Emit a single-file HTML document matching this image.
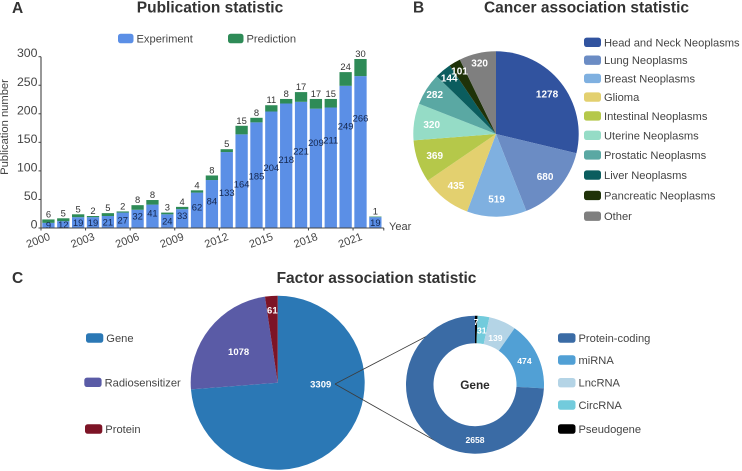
<!DOCTYPE html>
<html lang="en">
<head>
<meta charset="utf-8">
<title>Publication, cancer and factor association statistics</title>
<style>
html,body{margin:0;padding:0;background:#fff;}
svg{display:block;font-family:"Liberation Sans",sans-serif;}
.title{font-size:15.5px;font-weight:bold;fill:#333;}
.panel{font-size:15.5px;font-weight:bold;fill:#333;}
.leg{font-size:11.15px;fill:#444;}
</style>
</head>
<body>
<svg id="chart" width="742" height="471" viewBox="0 0 742 471" xmlns="http://www.w3.org/2000/svg">
  <rect x="0" y="0" width="742" height="471" fill="#fff"/>
  <text class="panel" x="12" y="13">A</text>
  <text class="panel" x="413" y="12.5">B</text>
  <text class="panel" x="12" y="283">C</text>
  <text class="title" x="210" y="12.5" text-anchor="middle">Publication statistic</text>
  <text class="title" x="586.5" y="12.5" text-anchor="middle">Cancer association statistic</text>
  <text class="title" x="376.5" y="283" text-anchor="middle">Factor association statistic</text>
  <text x="8" y="127" transform="rotate(-90 8 127)" text-anchor="middle" font-size="11.2" fill="#444">Publication number</text>
  <text x="389" y="230" font-size="11" fill="#444">Year</text>
  <g id="bars"></g>
  <g id="axes"></g>
  <g id="pieB"></g>
  <g id="pieC"></g>
  <line x1="335" y1="384" x2="429" y2="335" stroke="#3c3c3c" stroke-width="0.8"/>
  <line x1="335" y1="384" x2="441" y2="444" stroke="#3c3c3c" stroke-width="0.8"/>
  <g id="donut"></g>
  <text x="475" y="389" text-anchor="middle" font-size="11.8" font-weight="bold" fill="#2a2a2a">Gene</text>
  <g id="legends"></g>
</svg>
<script>
// Panel A data
const years = [2000,2001,2002,2003,2004,2005,2006,2007,2008,2009,2010,2011,2012,2013,2014,2015,2016,2017,2018,2019,2020,2021,2022];
const experiment = [9,12,19,19,21,27,32,41,24,33,62,84,133,164,185,204,218,221,209,211,249,266,19];
const prediction = [6,5,5,2,5,2,8,8,3,4,4,8,5,15,8,11,8,17,17,15,24,30,1];
const yTicks = [0,50,100,150,200,250,300];
const yearTicks = [2000,2003,2006,2009,2012,2015,2018,2021];

// Panel B data
const cancerNames = ['Head and Neck Neoplasms','Lung Neoplasms','Breast Neoplasms','Glioma','Intestinal Neoplasms','Uterine Neoplasms','Prostatic Neoplasms','Liver Neoplasms','Pancreatic Neoplasms','Other'];
const cancerValues = [1278,680,519,435,369,320,282,144,101,320];
const cancerColors = ['#31539f','#6b8cc4','#7fb0e0','#e3d06f','#b5c84a','#95dcc6','#5aa8a3','#0b5d5e','#1f3208','#7f7f7f'];

// Panel C data: printed values, and slice sizes as read from the drawn arcs
// (the reference enlarges its smallest slices, so the two differ slightly).
const factorNames = ['Gene','Radiosensitizer','Protein'];
const factorLabels = ['3309','1078','61'];
const factorArcValues = [3282,1063,104];
const factorColors = ['#2b78b5','#5a5ba6','#7d1426'];

const geneNames = ['Protein-coding','miRNA','LncRNA','CircRNA','Pseudogene'];
const geneLabels = ['2658','474','139','31','7'];
const geneArcValues = [2454,533,211,92,19];
const geneColors = ['#3a6ba5','#51a0d5','#b4d4e6','#72cbdc','#000000'];

const NS = 'http://www.w3.org/2000/svg';
function mk(tag, attrs, parent, txt) {
  const el = document.createElementNS(NS, tag);
  for (const k in attrs) el.setAttribute(k, attrs[k]);
  if (txt !== undefined) el.textContent = txt;
  parent.appendChild(el);
  return el;
}
const kebab = s => String(s).toLowerCase().replace(/[^a-z0-9]+/g, '-');

// Axis functions for panel A
const plotLeft = 41, plotBase = 228, band = 14.86, barW = 12.3, unit = 0.571;
const xBand = i => plotLeft + band * i;
const yVal = v => plotBase - v * unit;

// Where the reference sits each experiment label, in data units
function expLabelHeight(v, i) {
  if (v >= 100) return Math.min(v * 0.73, 62 + 14.5 * (i - 12));
  return v >= 30 ? v / 2 + 5 : v / 2;
}

const barsG = document.getElementById('bars');
years.forEach((yr, i) => {
  const cx = xBand(i) + band / 2;
  const e = experiment[i], p = prediction[i];
  const r1 = mk('rect', {x: cx - barW / 2, y: yVal(e), width: barW, height: e * unit, fill: '#5b8fe6'}, barsG);
  
  
  const r2 = mk('rect', {x: cx - barW / 2, y: yVal(e + p), width: barW, height: p * unit, fill: '#2e8b57'}, barsG);
  
  
  const t1 = mk('text', {x: cx, y: yVal(expLabelHeight(e, i)) + 3.3, 'text-anchor': 'middle', 'font-size': 9.4, fill: '#14264d'}, barsG, e);
  
  
  const t2 = mk('text', {x: cx, y: yVal(e + p) - 2, 'text-anchor': 'middle', 'font-size': 9.4, fill: '#333'}, barsG, p);
  
  
});

const axesG = document.getElementById('axes');
const yAxis = mk('line', {x1: plotLeft, x2: plotLeft, y1: yVal(300), y2: plotBase, stroke: '#444', 'stroke-width': 1.1}, axesG);


const xAxis = mk('line', {x1: plotLeft, x2: xBand(years.length) + 1, y1: plotBase, y2: plotBase, stroke: '#444', 'stroke-width': 1.1}, axesG);


yTicks.forEach(v => {
  const y = yVal(v);
  const tk = mk('line', {x1: plotLeft - 2.5, x2: plotLeft, y1: y, y2: y, stroke: '#444', 'stroke-width': 1}, axesG);
  
  
  const lb = mk('text', {x: 37.5, y: y + 0.5, 'text-anchor': 'end', 'font-size': 12.3, fill: '#444'}, axesG, v);
  
  
});
yearTicks.forEach(yr => {
  const x = xBand(years.indexOf(yr));
  const tk = mk('line', {x1: x, x2: x, y1: plotBase, y2: plotBase + 2.5, stroke: '#444', 'stroke-width': 1}, axesG);
  
  
  const lx = x - 3, ly = 240;
  const lb = mk('text', {x: lx, y: ly + 4, 'text-anchor': 'middle', 'font-size': 11, fill: '#444', transform: 'rotate(-20 ' + lx + ' ' + ly + ')'}, axesG, yr);
  
  
});
const endTick = mk('line', {x1: xBand(years.length) + 1, x2: xBand(years.length) + 1, y1: plotBase, y2: plotBase + 2.5, stroke: '#444', 'stroke-width': 1}, axesG);



// Pie helpers
function pol(cx, cy, r, deg) {
  const a = deg * Math.PI / 180;
  return [cx + r * Math.sin(a), cy - r * Math.cos(a)];
}
function arcPath(cx, cy, r, r0, a0, a1) {
  const large = (a1 - a0) > 180 ? 1 : 0;
  const p0 = pol(cx, cy, r, a0), p1 = pol(cx, cy, r, a1);
  if (r0 === 0) return 'M' + cx + ' ' + cy + 'L' + p0 + 'A' + r + ' ' + r + ' 0 ' + large + ' 1 ' + p1 + 'Z';
  const q1 = pol(cx, cy, r0, a1), q0 = pol(cx, cy, r0, a0);
  return 'M' + p0 + 'A' + r + ' ' + r + ' 0 ' + large + ' 1 ' + p1 + 'L' + q1 + 'A' + r0 + ' ' + r0 + ' 0 ' + large + ' 0 ' + q0 + 'Z';
}
function sliceAngles(vals) {
  const total = vals.reduce((s, v) => s + v, 0);
  let acc = 0;
  return vals.map(v => {
    const a0 = acc / total * 360;
    acc += v;
    return [a0, acc / total * 360];
  });
}

// Panel B pie
const pieB = document.getElementById('pieB');
const bCx = 496, bCy = 134, bR = 82.7;
sliceAngles(cancerValues).forEach(([a0, a1], i) => {
  const s = mk('path', {d: arcPath(bCx, bCy, bR, 0, a0, a1), fill: cancerColors[i]}, pieB);
  
  
});
sliceAngles(cancerValues).forEach(([a0, a1], i) => {
  const p = pol(bCx, bCy, i >= 6 ? 73 : 65, (a0 + a1) / 2);
  const t = mk('text', {x: p[0], y: p[1] + 3.6, 'text-anchor': 'middle', 'font-size': 10, 'font-weight': 'bold', fill: '#fff'}, pieB, cancerValues[i]);
  
  
});

// Panel C pie
const pieC = document.getElementById('pieC');
const cCx = 277.7, cCy = 382.7, cR = 87;
const factorAngles = sliceAngles(factorArcValues);
factorAngles.forEach(([a0, a1], i) => {
  const s = mk('path', {d: arcPath(cCx, cCy, cR, 0, a0, a1), fill: factorColors[i]}, pieC);
  
  
});
factorAngles.forEach(([a0, a1], i) => {
  const p = i === 0 ? pol(cCx, cCy, 43, 90) : pol(cCx, cCy, i === 1 ? 50 : 73, (a0 + a1) / 2);
  const t = mk('text', {x: p[0], y: p[1] + 3.5 + (i === 0 ? 1.5 : 0), 'text-anchor': 'middle', 'font-size': 9.5, 'font-weight': 'bold', fill: '#fff'}, pieC, factorLabels[i]);
  
  
});

// Gene donut: runs clockwise from the top, last category first
const donut = document.getElementById('donut');
const dCx = 475, dCy = 384.7, dR = 69, dR0 = 41.5;
const donutOrder = geneArcValues.map((v, i) => geneArcValues.length - 1 - i);
const donutAngles = sliceAngles(donutOrder.map(i => geneArcValues[i]));
donutOrder.forEach((idx, k) => {
  const s = mk('path', {d: arcPath(dCx, dCy, dR, dR0, donutAngles[k][0], donutAngles[k][1]), fill: geneColors[idx]}, donut);
  
  
});
donutOrder.forEach((idx, k) => {
  const mid = idx === 0 ? 180 : (donutAngles[k][0] + donutAngles[k][1]) / 2;
  const p = pol(dCx, dCy, idx === 4 ? 63 : (idx === 2 ? 51 : 55), mid);
  const t = mk('text', {x: p[0], y: p[1] + 3.2, 'text-anchor': 'middle', 'font-size': 8.6, 'font-weight': 'bold', fill: '#fff'}, donut, geneLabels[idx]);
  
  
});

// Legends
const legendG = document.getElementById('legends');
function legendEntry(x, cy, w, color, label) {
  const g = mk('g', {}, legendG);
  
  
  const r = mk('rect', {x: x, y: cy - 4.7, width: w, height: 9.4, rx: 2.6, fill: color}, g);
  
  
  const t = mk('text', {class: 'leg', x: x + w + 3, y: cy + 4}, g, label);
  
  
}
legendEntry(118, 38.5, 15.5, '#5b8fe6', 'Experiment');
legendEntry(228, 38.5, 15.5, '#2e8b57', 'Prediction');
cancerNames.forEach((n, i) => legendEntry(584, 42.3 + 17.7 * i + 0.18 * i * i, 17, cancerColors[i], n));
legendEntry(86, 338, 17.3, factorColors[0], factorNames[0]);
legendEntry(84.3, 382.3, 17.3, factorColors[1], factorNames[1]);
legendEntry(85, 429, 17.3, factorColors[2], factorNames[2]);
const geneRows = [338, 360, 382.7, 405, 429];
geneNames.forEach((n, i) => legendEntry(558, geneRows[i], 17.5, geneColors[i], n));
</script>
</body>
</html>
